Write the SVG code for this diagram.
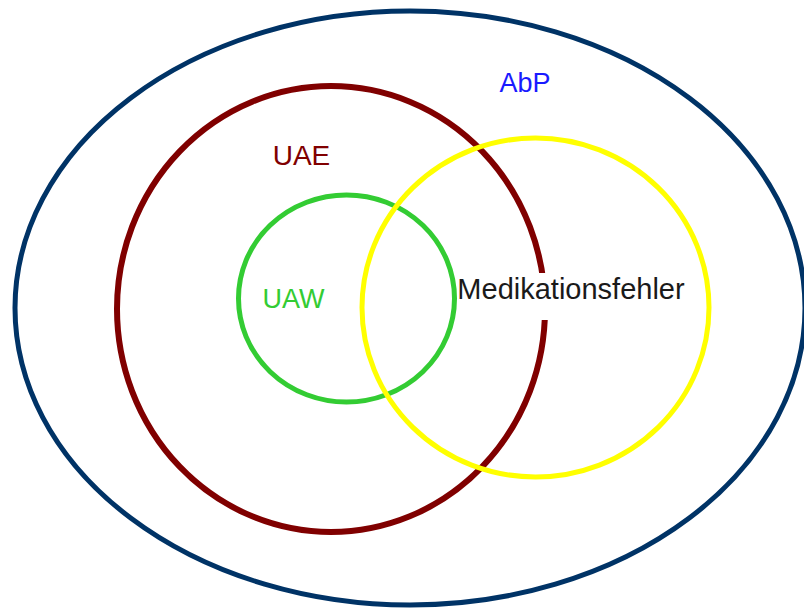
<svg xmlns="http://www.w3.org/2000/svg" width="804" height="609" viewBox="0 0 804 609">
<style>
.set{fill:none}
.lbl{font-family:"Liberation Sans",Arial,sans-serif}
</style>
<rect width="804" height="609" fill="#ffffff"/>
<g id="AbP">
<ellipse class="set" cx="410" cy="308" rx="395" ry="297" stroke="#003366" stroke-width="5"/>
<text class="lbl" x="525" y="92" font-size="27" fill="#1a1aff" text-anchor="middle">AbP</text>
</g>
<g id="UAE">
<ellipse class="set" cx="331" cy="309" rx="214" ry="223" stroke="#800000" stroke-width="6"/>
<text class="lbl" x="301.5" y="165" font-size="28" fill="#800000" text-anchor="middle">UAE</text>
</g>
<g id="UAW">
<ellipse class="set" cx="346.5" cy="298.5" rx="108" ry="103.5" stroke="#33cc33" stroke-width="5"/>
<text class="lbl" x="293.5" y="308" font-size="27" fill="#33cc33" text-anchor="middle">UAW</text>
</g>
<g id="Medikationsfehler">
<ellipse class="set" cx="535.5" cy="307.5" rx="173.5" ry="169.5" stroke="#ffff00" stroke-width="5"/>
<rect x="458" y="273" width="228" height="47" fill="#ffffff"/>
<text class="lbl" x="571" y="299" font-size="29" fill="#1a1a1a" text-anchor="middle">Medikationsfehler</text>
</g>
</svg>
